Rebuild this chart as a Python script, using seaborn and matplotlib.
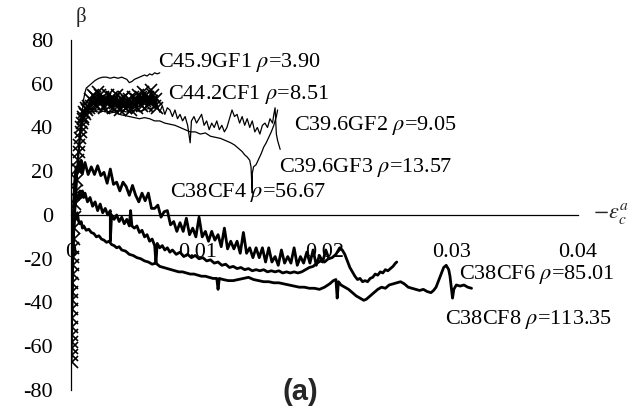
import matplotlib
matplotlib.use("Agg")
import matplotlib.pyplot as plt
import seaborn as sns
import pandas as pd

# (strain, beta) samples for each specimen
GF1 = [(0.0002, -15), (0.0004, 8), (0.0006, 28), (0.0008, 42), (0.0009, 48), (0.0010, 53),
       (0.0011, 56), (0.0012, 58), (0.0014, 59), (0.0016, 60), (0.0019, 61.5), (0.0022, 62.5),
       (0.0025, 63), (0.0028, 63), (0.0031, 62.5), (0.0034, 63), (0.0037, 62.5), (0.0040, 63),
       (0.0042, 62.5), (0.0044, 62), (0.0046, 60.5), (0.0048, 61), (0.0050, 62), (0.0052, 62.5),
       (0.0054, 63), (0.0056, 63.5), (0.0058, 64), (0.0060, 63.5), (0.0062, 64.5), (0.0064, 64),
       (0.0066, 65), (0.0068, 64.5), (0.0070, 65)]

CF1 = [(0.00004, -67), (0.00007, -64), (0.00005, -61), (0.00008, -58), (0.00006, -55), (0.00009, -51),
       (0.00007, -47), (0.00010, -43), (0.00008, -39), (0.00011, -35), (0.00009, -31), (0.00012, -27),
       (0.00014, -23), (0.00016, -19), (0.00019, -15), (0.00022, -11), (0.00026, -6), (0.00030, -1),
       (0.00035, 5), (0.00040, 11), (0.00045, 16), (0.00050, 21), (0.00055, 25), (0.00060, 29),
       (0.00065, 32), (0.00070, 35), (0.00075, 38), (0.00080, 40), (0.00086, 42), (0.00092, 44),
       (0.00098, 45), (0.00105, 47), (0.00112, 46), (0.00120, 49), (0.00128, 48), (0.00136, 50),
       (0.0014, 49), (0.0015, 53), (0.0016, 50), (0.0017, 55), (0.0018, 51), (0.0019, 54),
       (0.0020, 50), (0.0021, 56), (0.0022, 52), (0.0023, 55), (0.0024, 51), (0.0025, 54),
       (0.0026, 49), (0.0027, 53), (0.0028, 51), (0.0029, 55), (0.0030, 52), (0.0031, 50),
       (0.0032, 54), (0.0033, 49), (0.0034, 53), (0.0035, 51), (0.0036, 55), (0.0037, 50),
       (0.0038, 52), (0.0039, 48), (0.0040, 53), (0.0041, 50), (0.0042, 54), (0.0043, 49),
       (0.0044, 52), (0.0045, 50), (0.0046, 53), (0.0047, 48), (0.0048, 51), (0.0049, 54),
       (0.0050, 50), (0.0051, 53), (0.0052, 49), (0.0053, 55), (0.0054, 51), (0.0055, 54),
       (0.0056, 50), (0.0057, 56), (0.0058, 52), (0.0059, 55), (0.0060, 50), (0.0061, 54),
       (0.0062, 51), (0.0063, 57), (0.0064, 52), (0.0065, 55), (0.0066, 50), (0.0067, 53),
       (0.0068, 49)]

GF2 = [(0.0002, -5), (0.0004, 15), (0.0006, 32), (0.0008, 42), (0.0011, 47), (0.0015, 49),
       (0.0020, 48), (0.0025, 48.5), (0.0030, 47), (0.0035, 48), (0.0040, 47.5), (0.0045, 47),
       (0.0050, 48), (0.0055, 47.5), (0.0060, 48.5), (0.0065, 49),
       (0.0068, 50), (0.0070, 47), (0.0072, 50), (0.0074, 46), (0.0076, 49), (0.0078, 48),
       (0.0080, 45), (0.0082, 48), (0.0084, 44), (0.0086, 46), (0.0088, 43), (0.0090, 45),
       (0.0092, 41), (0.0094, 33), (0.0095, 43), (0.0097, 45), (0.0099, 42), (0.0101, 44),
       (0.0103, 46), (0.0105, 41), (0.0107, 43), (0.0109, 39), (0.0111, 42), (0.0113, 40),
       (0.0115, 43), (0.0117, 39), (0.0119, 41), (0.0121, 38), (0.0123, 40), (0.0125, 44),
       (0.0127, 48), (0.0129, 45), (0.0131, 46), (0.0133, 42), (0.0135, 45), (0.0137, 41),
       (0.0139, 44), (0.0141, 40), (0.0143, 43), (0.0145, 38), (0.0147, 40), (0.0149, 37),
       (0.0151, 41), (0.0153, 42), (0.0155, 40), (0.0157, 44), (0.0159, 42), (0.0160, 46),
       (0.0161, 49), (0.0162, 37), (0.0163, 34), (0.0165, 30)]

GF3 = [(0.0002, -8), (0.0004, 12), (0.0006, 30), (0.0008, 41), (0.0010, 45), (0.0012, 46.5),
       (0.0015, 47), (0.0018, 47.5), (0.0022, 47), (0.0026, 47.5), (0.0030, 46.5), (0.0034, 47),
       (0.0038, 46), (0.0042, 45.5), (0.0046, 45), (0.0050, 44.5), (0.0054, 44), (0.0058, 44.5),
       (0.0062, 44), (0.0066, 43), (0.0070, 43), (0.0074, 42), (0.0078, 41.5), (0.0082, 41),
       (0.0086, 40), (0.0090, 39), (0.0094, 38), (0.0098, 38), (0.0102, 37), (0.0106, 37.5),
       (0.0110, 36), (0.0114, 35.5), (0.0118, 35), (0.0122, 34), (0.0126, 33), (0.0129, 32),
       (0.0132, 30.5), (0.0135, 29), (0.0137, 27.5), (0.0139, 26.5), (0.0141, 25), (0.0142, 22),
       (0.0143, 10), (0.0143, 19), (0.0144, 22), (0.0146, 23), (0.0148, 25.5), (0.0150, 28),
       (0.0152, 31), (0.0154, 33), (0.0156, 35.5), (0.0158, 38), (0.0160, 41), (0.0162, 45),
       (0.0163, 48)]

CF4 = [(0.00005, -45), (0.00010, -30), (0.00015, -12), (0.00020, 5), (0.00030, 16), (0.00040, 22),
       (0.00050, 19), (0.00060, 24), (0.00070, 20), (0.00080, 25), (0.00090, 19),
       (0.00110, 24), (0.00135, 18.5), (0.00160, 22), (0.00185, 18.5), (0.00210, 22.5), (0.00235, 18),
       (0.00260, 19.5), (0.00285, 14.5), (0.00310, 21), (0.00335, 14), (0.00360, 15), (0.00385, 11),
       (0.00410, 15), (0.00435, 13), (0.00460, 9), (0.00485, 13.5), (0.00510, 9), (0.00535, 6),
       (0.00560, 10), (0.00585, 6.5), (0.00610, 10), (0.00635, 3), (0.00660, 3), (0.00685, 4.5),
       (0.00710, -1), (0.00735, 1.5), (0.00760, 2), (0.00785, -4.5), (0.00810, -3), (0.00835, -7.5),
       (0.00860, -3.5), (0.00885, -7.5), (0.00910, -1.5), (0.00935, -9), (0.00960, -6), (0.00985, -10),
       (0.01010, -1), (0.01035, -10), (0.01060, -7.5), (0.01085, -12), (0.01110, -7.5), (0.01135, -11.5),
       (0.01160, -9), (0.01185, -14.5), (0.01210, -6), (0.01235, -15.5), (0.01260, -12), (0.01285, -15.5),
       (0.01310, -12), (0.01335, -17.5), (0.01360, -8), (0.01385, -17.5), (0.01410, -15), (0.01435, -19.5),
       (0.01460, -15), (0.01485, -19.5), (0.01510, -15), (0.01535, -21.5), (0.01560, -15), (0.01585, -21.5),
       (0.01610, -19), (0.01635, -23), (0.01660, -16), (0.01685, -22), (0.01710, -19), (0.01735, -22),
       (0.01760, -15), (0.01785, -23), (0.01810, -19), (0.01835, -22), (0.01860, -17), (0.01885, -22),
       (0.01910, -16), (0.01935, -23), (0.01960, -18.5), (0.01985, -21.5), (0.02010, -16), (0.02035, -20)]

CF6 = [(0.00005, -40), (0.0001, -25), (0.00015, -10), (0.0002, -2), (0.0003, 4), (0.0004, 7),
       (0.0005, 9), (0.0006, 7), (0.0007, 11), (0.0008, 8), (0.0009, 11), (0.0010, 8),
       (0.0011, 10), (0.0013, 6), (0.0015, 8), (0.0017, 4), (0.0019, 6), (0.0021, 2),
       (0.0023, 5), (0.0025, 1), (0.0027, 3), (0.0029, 0), (0.0031, 2), (0.0031, -12),
       (0.0032, 0), (0.0034, -2), (0.0036, 0), (0.0038, -3), (0.0040, -1), (0.0042, -4),
       (0.0044, -2), (0.0046, -5), (0.0047, 2), (0.0048, -5), (0.0050, -6), (0.0052, -5),
       (0.0054, -8), (0.0056, -7), (0.0058, -10), (0.0060, -9), (0.0062, -12), (0.0064, -11),
       (0.0066, -14), (0.0067, -22), (0.0068, -13), (0.0070, -15), (0.0072, -14), (0.0074, -16),
       (0.0076, -15), (0.0078, -17), (0.0080, -16), (0.0083, -18), (0.0086, -17), (0.0089, -19),
       (0.0092, -18), (0.0095, -19.5), (0.0098, -18.5), (0.0101, -20), (0.0104, -19.5), (0.0107, -21),
       (0.0110, -20.5), (0.0113, -22), (0.0116, -21.5), (0.0119, -23), (0.0122, -22.5), (0.0125, -24),
       (0.0128, -23.5), (0.0131, -24.5), (0.0134, -24), (0.0137, -25), (0.0140, -24.5), (0.0143, -25.5),
       (0.0146, -25), (0.0149, -25.5), (0.0152, -25), (0.0155, -26), (0.0158, -25.5), (0.0161, -26),
       (0.0164, -25.5), (0.0167, -26.5), (0.0170, -26), (0.0173, -26.5), (0.0176, -26), (0.0179, -26.5),
       (0.0182, -26), (0.0185, -25), (0.0188, -24), (0.0191, -23.5), (0.0194, -22), (0.0197, -21),
       (0.0200, -21.5), (0.0203, -20), (0.0206, -19.5), (0.0209, -18), (0.0212, -15), (0.0214, -16),
       (0.0216, -18), (0.0218, -21), (0.0220, -24), (0.0222, -26), (0.0224, -28), (0.0226, -29.5),
       (0.0228, -29), (0.0230, -30.5), (0.0232, -30), (0.0234, -30.5), (0.0236, -29), (0.0238, -28.5),
       (0.0240, -27), (0.0242, -27.5), (0.0244, -26), (0.0246, -26.5), (0.0248, -25), (0.0250, -25.5),
       (0.0252, -24.5), (0.0254, -23.5), (0.0256, -22), (0.0257, -21.5)]

CF8 = [(0.00005, -45), (0.0001, -30), (0.00015, -15), (0.0002, -5), (0.0003, 0), (0.0004, -2),
       (0.0005, 1), (0.0006, -3), (0.0007, -4), (0.0008, -3), (0.0009, -6), (0.0010, -5),
       (0.0012, -7), (0.0014, -6.5), (0.0016, -8), (0.0018, -8.5), (0.0020, -10), (0.0022, -9.5),
       (0.0024, -11), (0.0026, -11.5), (0.0028, -12.5), (0.0030, -12), (0.0032, -13.5), (0.0034, -14),
       (0.0036, -15), (0.0038, -14.5), (0.0040, -16), (0.0043, -16.5), (0.0046, -18), (0.0049, -18.5),
       (0.0052, -19.5), (0.0055, -20), (0.0058, -21), (0.0061, -21.5), (0.0064, -22.5), (0.0067, -22),
       (0.0070, -23.5), (0.0073, -24), (0.0076, -24.5), (0.0079, -25), (0.0082, -25.5), (0.0085, -26),
       (0.0088, -26), (0.0091, -26.5), (0.0094, -27), (0.0097, -27), (0.0100, -27.5), (0.0103, -28),
       (0.0106, -28), (0.0109, -28.5), (0.0112, -29), (0.0115, -29), (0.0116, -34), (0.0117, -29),
       (0.0120, -29.5), (0.0124, -30), (0.0128, -30), (0.0132, -29.5), (0.0136, -29), (0.0140, -28.5),
       (0.0144, -29.5), (0.0148, -30), (0.0152, -30.5), (0.0156, -30.5), (0.0160, -31), (0.0164, -31),
       (0.0168, -31.5), (0.0172, -32), (0.0176, -32.5), (0.0180, -33), (0.0184, -33), (0.0188, -33.5),
       (0.0192, -33.5), (0.0196, -34), (0.0200, -33), (0.0204, -31.5), (0.0207, -30), (0.0209, -29.5),
       (0.0210, -38), (0.0211, -30.5), (0.0213, -32), (0.0216, -33), (0.0219, -34), (0.0222, -35.5),
       (0.0225, -37), (0.0228, -38), (0.0231, -39), (0.0233, -38.5), (0.0236, -37), (0.0239, -35.5),
       (0.0242, -34), (0.0245, -33), (0.0248, -33.5), (0.0251, -32), (0.0254, -31.5), (0.0257, -31),
       (0.0260, -30.5), (0.0263, -31.5), (0.0266, -33), (0.0269, -33.5), (0.0272, -34), (0.0275, -34.5),
       (0.0278, -34), (0.0281, -35), (0.0284, -35.5), (0.0286, -34.5), (0.0288, -33), (0.0290, -30),
       (0.0292, -27), (0.0294, -24), (0.0296, -23), (0.0298, -25), (0.0299, -28), (0.0300, -33),
       (0.0301, -38), (0.0302, -34), (0.0304, -32), (0.0307, -32.5), (0.0310, -32), (0.0313, -33),
       (0.0316, -33.5)]

SPECIMEN_LABELS = ["C45.9GF1 $\\rho$=3.90", "C44.2CF1 $\\rho$=8.51", "C39.6GF2 $\\rho$=9.05",
                   "C39.6GF3 $\\rho$=13.57", "C38CF4 $\\rho$=56.67", "C38CF6 $\\rho$=85.01",
                   "C38CF8 $\\rho$=113.35"]
LABEL_ANCHORS = [(0.00685, 69.5), (0.00764, 55.3), (0.01756, 41.1), (0.01638, 21.5),
                 (0.0078, 10.5), (0.03063, -27), (0.02953, -48)]

X_TICKS = [0, 0.01, 0.02, 0.03, 0.04]
X_TICK_LABELS = ["0", "0.01", "0.02", "0.03", "0.04"]
Y_TICKS = [-80, -60, -40, -20, 0, 20, 40, 60, 80]
Y_TICK_LABELS = ["-80", "-60", "-40", "-20", "0", "20", "40", "60", "80"]

SERIF = ["Liberation Serif", "DejaVu Serif"]


def frame(pairs):
    return pd.DataFrame(pairs, columns=["strain", "beta"])


sns.set_style("white")
plt.rcParams["font.family"] = SERIF
plt.rcParams["mathtext.fontset"] = "stix"

fig = plt.figure(figsize=(6.37, 4.13), dpi=100)
ax = fig.add_axes([0.1115, 0.0557, 0.7959, 0.8475])

common = dict(x="strain", y="beta", ax=ax, sort=False, estimator=None,
              color="black", zorder=3, legend=False)

# thin glass-fibre curves
for series in (GF1, GF2, GF3):
    sns.lineplot(data=frame(series), linewidth=0.9, **common)

# heavy carbon-fibre curves
for series in (CF4, CF6, CF8):
    sns.lineplot(data=frame(series), linewidth=2.0, **common)

sns.lineplot(data=frame(CF1), linewidth=1.4, marker="x", markersize=8,
             markeredgewidth=1.2, markeredgecolor="black", **common)

ax.set_xlim(0, 0.04)
ax.set_ylim(-80, 80)
ax.set_xticks(X_TICKS)
ax.set_xticklabels(X_TICK_LABELS, family=SERIF)
ax.set_yticks(Y_TICKS)
ax.set_yticklabels(Y_TICK_LABELS, family=SERIF)
ax.set_xlabel("")
ax.set_ylabel("")

for side in ("top", "right"):
    ax.spines[side].set_visible(False)
for side in ("left", "bottom"):
    ax.spines[side].set_linewidth(0.9)
    ax.spines[side].set_color("black")
ax.spines["bottom"].set_position(("data", 0))

ax.tick_params(axis="x", direction="in", length=5, width=0.9, pad=20.5,
               labelsize=16, colors="black")
ax.tick_params(axis="y", direction="in", length=5, width=0.9, pad=13,
               labelsize=16, colors="black")
for lbl in ax.get_xticklabels() + ax.get_yticklabels():
    lbl.set_fontfamily(SERIF)

for text, (tx, ty) in zip(SPECIMEN_LABELS, LABEL_ANCHORS):
    ax.text(tx, ty, text, fontsize=16, ha="left", va="center", color="black",
            zorder=4, clip_on=False)

ax.text(0.0008, 90.5, "β", fontsize=15, ha="center", va="center", clip_on=False)
ax.text(0.0412, 0.5, r"$-\varepsilon_c^{a}$", fontsize=16, ha="left", va="center",
        clip_on=False)

fig.text(0.471, 0.051, "(a)", family=["Liberation Sans", "DejaVu Sans"],
         weight="bold", fontsize=21, ha="center", va="center")

fig.savefig("out.png", dpi=100)
